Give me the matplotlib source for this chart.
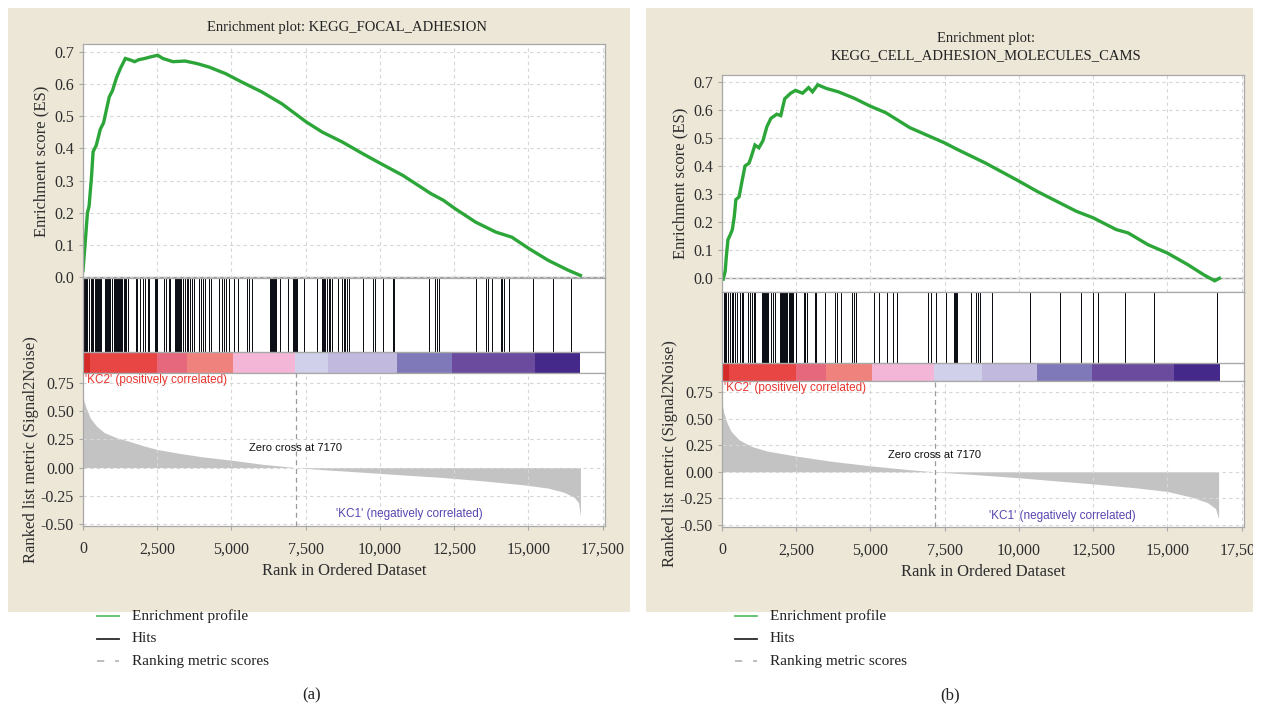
import matplotlib
matplotlib.use("Agg")
import matplotlib.pyplot as plt
from matplotlib.patches import Rectangle
from matplotlib.lines import Line2D
from matplotlib.ticker import FuncFormatter
from matplotlib.transforms import Bbox, TransformedBbox

W, H = 1261, 710

# ---- panel (a): KEGG_FOCAL_ADHESION ----
es_rank_a = [0, 68, 150, 204, 285, 340, 448, 584, 693, 788, 883, 992, 1128, 1264, 1427,
             1603, 1739, 1875, 2079, 2283, 2514, 2690, 3030, 3438, 3845, 4253, 4796, 5340,
             6019, 6698, 7527, 8057, 8736, 9416, 10027, 10774, 11725, 12133, 12527, 13220,
             13899, 14443, 15027, 15666, 16345, 16753]
es_score_a = [0.02, 0.10, 0.20, 0.22, 0.31, 0.39, 0.41, 0.46, 0.48, 0.52, 0.56, 0.58, 0.62,
              0.65, 0.68, 0.675, 0.67, 0.676, 0.68, 0.685, 0.69, 0.68, 0.67, 0.672, 0.664,
              0.653, 0.633, 0.607, 0.576, 0.539, 0.482, 0.451, 0.42, 0.384, 0.353, 0.316,
              0.259, 0.239, 0.213, 0.171, 0.14, 0.124, 0.088, 0.052, 0.021, 0.005]
hits_a = [25, 60, 95, 130, 209, 260, 295, 330, 410, 445, 480, 515, 550, 585, 620,
          725, 760, 800, 840, 880, 920, 989, 1050, 1085, 1120, 1155, 1190, 1225, 1260,
          1295, 1330, 1365, 1400, 1440, 1512, 1770, 1830, 1915, 2035, 2094, 2175, 2210,
          2419, 2455, 2500, 2733, 2790, 2884, 2931, 3085, 3120, 3155, 3190, 3225, 3256,
          3315, 3373, 3431, 3489, 3547, 3605, 3663, 3722, 3896, 3977, 4047, 4094, 4245,
          4303, 4594, 4675, 4745, 4826, 4908, 5094, 5233, 5524, 5582, 5699, 6305, 6340,
          6375, 6410, 6445, 6480, 6515, 6629, 6920, 7075, 7110, 7145, 7180, 7210, 7443,
          7885, 8050, 8090, 8130, 8165, 8234, 8280, 8330, 8373, 8583, 8722, 8780, 8838,
          8897, 8955, 9420, 9769, 9827, 10118, 10432, 10467, 11653, 11839, 11921, 11979,
          13235, 13584, 13630, 13781, 14072, 14120, 14165, 14363, 15142, 15840, 16422]
metric_rank_a = [0, 30, 109, 245, 448, 720, 1128, 1535, 2079, 2514, 3302, 3981, 5027, 6019,
                 7174, 8057, 9416, 10774, 12133, 13492, 14851, 15666, 16209, 16549, 16685,
                 16753]
metric_a = [0.647, 0.59, 0.53, 0.44, 0.37, 0.31, 0.265, 0.235, 0.19, 0.16, 0.124, 0.097,
            0.065, 0.03, 0.0, -0.018, -0.041, -0.065, -0.088, -0.118, -0.153, -0.182,
            -0.22, -0.265, -0.31, -0.43]
band_edges_a = [0, 233, 2500, 3489, 5059, 7152, 8257, 10583, 12444, 15212, 16747]

# ---- panel (b): KEGG_CELL_ADHESION_MOLECULES_CAMS ----
es_rank_b = [40, 107, 147, 201, 281, 348, 414, 468, 575, 682, 775, 909, 976, 1110, 1243,
             1377, 1511, 1645, 1845, 1979, 2112, 2313, 2473, 2714, 2915, 3048, 3222, 3516,
             3917, 4452, 4987, 5522, 6324, 7487, 7928, 8864, 10000, 10602, 11270, 11939,
             12500, 13276, 13677, 14346, 15001, 15683, 16218, 16592, 16752]
es_score_b = [-0.004, 0.024, 0.078, 0.137, 0.155, 0.173, 0.22, 0.28, 0.29, 0.35, 0.40,
              0.41, 0.43, 0.475, 0.465, 0.49, 0.54, 0.57, 0.585, 0.58, 0.64, 0.66, 0.67,
              0.66, 0.68, 0.665, 0.69, 0.677, 0.665, 0.642, 0.614, 0.59, 0.537, 0.483,
              0.459, 0.411, 0.346, 0.31, 0.274, 0.238, 0.215, 0.173, 0.161, 0.119, 0.089,
              0.048, 0.012, -0.01, -0.001]
hits_b = [69, 114, 148, 206, 263, 320, 377, 434, 491, 605, 662, 719, 891, 948, 1005, 1062,
          1119, 1350, 1385, 1420, 1455, 1490, 1525, 1560, 1667, 1724, 1782, 1945, 1980,
          2015, 2050, 2085, 2120, 2147, 2205, 2240, 2275, 2310, 2345, 2375, 2490, 2775,
          2810, 2855, 3118, 3175, 3460, 3803, 3860, 3997, 4374, 4431, 4522, 5116, 5287,
          5573, 5744, 5893, 6921, 7035, 7195, 7537, 7800, 7840, 7880, 7915, 8371, 8565,
          8634, 8679, 9090, 10369, 11374, 12105, 12482, 12653, 13567, 14538, 16673]
metric_rank_b = [0, 67, 174, 307, 575, 976, 1511, 2487, 3650, 4987, 6323, 7152, 8596,
                 10000, 11270, 12500, 13944, 15000, 15816, 16350, 16618, 16725]
metric_b = [0.64, 0.55, 0.457, 0.38, 0.30, 0.24, 0.195, 0.148, 0.10, 0.056, 0.019, 0.0,
            -0.028, -0.056, -0.086, -0.114, -0.151, -0.185, -0.238, -0.29, -0.345, -0.44]
band_edges_b = [0, 240, 2490, 3517, 5059, 7149, 8771, 10621, 12448, 15223, 16765]

band_colors = ["#d42a28", "#e84545", "#e5687c", "#ef827c", "#f4b6d6", "#d0d0ea",
               "#c2b9df", "#8079b9", "#6a4b9d", "#44298a"]

zero_cross = 7170
xticks = [0, 2500, 5000, 7500, 10000, 12500, 15000, 17500]

serif = "Liberation Serif"
sans = "Liberation Sans"
green = "#2ca639"
beige = "#ede7d8"
gridc = "#d6d6d6"
framec = "#a8a8a8"
textc = "#2e2e2e"


def px_axes(fig, x0, y0, x1, y1):
    return fig.add_axes([x0 / W, 1 - y1 / H, (x1 - x0) / W, (y1 - y0) / H])


def style_frame(ax):
    for s in ax.spines.values():
        s.set_color(framec)
        s.set_linewidth(0.9)


def draw_panel(fig, left, tops, title, title_y, es_rank, es_score, hits, mrank, metric,
               edges, es_ylim, lo_ylim, zc_text_y, kc1_x, panel_box):
    x0, x1 = left, left + 522
    es_top, hits_top, cb_top, lo_top, lo_bot = tops
    xlim = (0, 17580)

    fig.text((x0 + 264) / W, 1 - title_y / H, title, family=serif, fontsize=10.5,
             color="#222222", ha="center", va="center", linespacing=1.45)

    # enrichment score
    ax = px_axes(fig, x0, es_top, x1, hits_top)
    ax.plot(es_rank, es_score, color=green, lw=2.4, solid_joinstyle="miter")
    ax.axhline(0, color="#9a9a9a", lw=1.0, zorder=1)
    ax.set_xlim(*xlim)
    ax.set_ylim(*es_ylim)
    ax.set_xticks(xticks)
    ax.set_xticklabels([])
    ax.set_yticks([0, 0.1, 0.2, 0.3, 0.4, 0.5, 0.6, 0.7])
    ax.yaxis.set_major_formatter(FuncFormatter(lambda v, p: "%.1f" % v))
    ax.grid(True, ls=(0, (3, 3)), color=gridc, lw=0.8)
    ax.tick_params(axis="x", length=0)
    ax.tick_params(axis="y", length=3, color=framec, labelsize=11.5, labelcolor=textc)
    for lab in ax.get_yticklabels():
        lab.set_family(serif)
    ax.set_ylabel("Enrichment score (ES)", family=serif, fontsize=12, color=textc)
    ax.yaxis.set_label_coords(-0.064, 0.5)
    style_frame(ax)

    # hits + ranking colour bar
    hx = px_axes(fig, x0, hits_top, x1, lo_top)
    frac = (lo_top - cb_top) / (lo_top - hits_top)
    hx.vlines(hits, frac, 1, color="#0c0f16", lw=0.72, antialiased=False)
    for i in range(len(band_colors)):
        hx.add_patch(Rectangle((edges[i], 0), edges[i + 1] - edges[i], frac,
                               facecolor=band_colors[i], edgecolor="none"))
    hx.axhline(frac, color=framec, lw=1.0)
    hx.set_xlim(*xlim)
    hx.set_ylim(0, 1)
    hx.set_xticks([])
    hx.set_yticks([])
    style_frame(hx)

    # ranked list metric
    lx = px_axes(fig, x0, lo_top, x1, lo_bot)
    lx.fill_between(mrank, metric, 0, color="#c3c3c3", lw=0)
    lx.axvline(zero_cross, color="#9a9a9a", lw=0.9, ls=(0, (4, 3)))
    lx.set_xlim(*xlim)
    lx.set_ylim(*lo_ylim)
    lx.set_xticks(xticks)
    lx.xaxis.set_major_formatter(FuncFormatter(lambda v, p: "{:,}".format(int(v))))
    lx.set_yticks([-0.5, -0.25, 0, 0.25, 0.5, 0.75])
    lx.yaxis.set_major_formatter(FuncFormatter(lambda v, p: "%.2f" % v))
    lx.grid(True, ls=(0, (3, 3)), color=gridc, lw=0.8)
    lx.tick_params(length=3, color=framec, labelsize=11.5, labelcolor=textc)
    lx.tick_params(axis="x", pad=8)
    for lab in lx.get_xticklabels() + lx.get_yticklabels():
        lab.set_family(serif)
    # tick labels stop at the edge of the shaded panel
    clip = TransformedBbox(Bbox([[panel_box[0] / W, 0], [panel_box[1] / W, 1]]),
                           fig.transFigure)
    for lab in lx.get_xticklabels():
        lab.set_clip_box(clip)
        lab.set_clip_on(True)
    lx.set_ylabel("Ranked list metric (Signal2Noise)", family=serif, fontsize=12,
                  color=textc)
    lx.yaxis.set_label_coords(-0.084, 0.5)
    lx.set_xlabel("Rank in Ordered Dataset", family=serif, fontsize=12, color=textc,
                  labelpad=4)
    style_frame(lx)
    lx.text(60, lo_ylim[1] - 0.065, "'KC2' (positively correlated)", family=sans,
            fontsize=8.5, color="#e8352e", va="center", ha="left")
    lx.text(kc1_x, -0.415, "'KC1' (negatively correlated)", family=sans, fontsize=8.5,
            color="#5a45b0", va="center", ha="center")
    lx.text(zero_cross, zc_text_y, "Zero cross at 7170", family=sans, fontsize=8,
            color="#111111", va="center", ha="center")


fig = plt.figure(figsize=(W / 100, H / 100), dpi=100)
fig.patch.set_facecolor("white")

panels = [(8, 630), (646, 1253)]
for bx0, bx1 in panels:
    fig.add_artist(Rectangle((bx0 / W, 1 - 612 / H), (bx1 - bx0) / W, 604 / H,
                             transform=fig.transFigure, facecolor=beige,
                             edgecolor="none", zorder=0))

draw_panel(fig, 83, (44, 278, 352, 373, 526), "Enrichment plot: KEGG_FOCAL_ADHESION", 27,
           es_rank_a, es_score_a, hits_a, metric_rank_a, metric_a, band_edges_a,
           (-0.003, 0.725), (-0.518, 0.839), 0.17, 11000, panels[0])
draw_panel(fig, 722, (75, 292, 363, 381, 527),
           "Enrichment plot:\nKEGG_CELL_ADHESION_MOLECULES_CAMS", 47,
           es_rank_b, es_score_b, hits_b, metric_rank_b, metric_b, band_edges_b,
           (-0.05, 0.725), (-0.519, 0.853), 0.16, 11450, panels[1])

# legends under each panel
legend_items = [("Enrichment profile", "#5cbf6a", "-"),
                ("Hits", "#2a2a2a", "-"),
                ("Ranking metric scores", "#b8b8b8", (0, (4, 6)))]
for lx0, tag in ((97, "(a)"), (735, "(b)")):
    for i, (name, col, ls) in enumerate(legend_items):
        y = 1 - (616 + 22.5 * i) / H
        fig.add_artist(Line2D([lx0 / W, (lx0 + 22) / W], [y, y], transform=fig.transFigure,
                              color=col, lw=1.3, ls=ls))
        fig.text((lx0 + 35) / W, y, name, family=serif, fontsize=11, color="#222222",
                 va="center", ha="left")
    fig.text((lx0 + 215) / W, 1 - 695 / H, tag, family=serif, fontsize=12,
             color="#222222", va="center", ha="center")

fig.savefig("out.png", dpi=100)
